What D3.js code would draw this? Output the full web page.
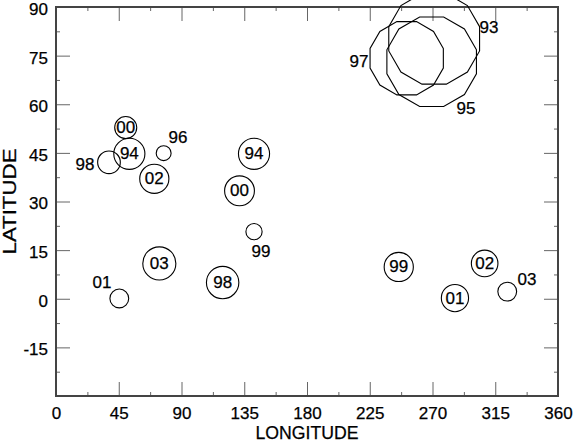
<!DOCTYPE html>
<html>
<head>
<meta charset="utf-8">
<script src="https://cdn.jsdelivr.net/npm/d3@7"></script>
<style>
  html, body { margin: 0; padding: 0; background: #fff; }
  svg { display: block; }
  text { font-family: "Liberation Sans", Arial, Helvetica, sans-serif; fill: #000; stroke: #000; stroke-width: 0.25px; }
</style>
</head>
<body>
<svg id="chart" width="573" height="442"></svg>
<script>
// ---- data ----
const labels   = ["00","94","98","96","02","00","94","99","01","03","98","99","02","01","03","97","95","93"];
const lons     = [50.0, 52.6, 38.0, 77.2, 70.5, 131.6, 142.0, 142.0, 45.4, 74.1, 119.5, 245.8, 307.4, 286.1, 323.6, 251.5, 269.4, 271.2];
const lats     = [52.8, 44.7, 42.1, 44.9, 37.0, 33.3, 44.7, 20.7, 0.1, 10.9, 5.0, 9.8, 10.9, 0.2, 2.2, 74.2, 73.1, 80.2];
const sizes    = [3.4, 4.8, 3.5, 2.3, 4.5, 4.6, 4.8, 2.5, 2.9, 5.1, 5.0, 4.5, 4.1, 4.2, 2.9, 11.7, 14.3, 14.5]; // radius, degrees of latitude
const labelLon = [null, null, 20.8, 87.5, null, null, null, 147.0, 33.0, null, null, null, null, null, 337.8, 217.3, 294.0, 310.5];
const labelLat = [null, null, 41.3, 49.6, null, null, null, 14.7, 4.9, null, null, null, null, null, 5.8, 73.1, 58.8, 83.8];
const xTicks = [0, 45, 90, 135, 180, 225, 270, 315, 360];
const yTicks = [-15, 0, 15, 30, 45, 60, 75, 90];
const xMinor = [22.5, 67.5, 112.5, 157.5, 202.5, 247.5, 292.5, 337.5];
const yMinor = [-22.5, -7.5, 7.5, 22.5, 37.5, 52.5, 67.5, 82.5];

// ---- layout ----
const W = 573, H = 442;
const L = 56, R = 558, T = 7, B = 396;
const svg = d3.select("#chart");

const x = d3.scaleLinear().domain([0, 360]).range([L, R]);
const y = d3.scaleLinear().domain([-30, 90]).range([B, T]);
const rScale = d3.scaleLinear().domain([0, 15]).range([0, y(0) - y(15)]);

const tickColor = "#666";
function styleAxis(g) {
  g.select(".domain").remove();
  g.selectAll(".tick line").attr("stroke", tickColor).attr("stroke-width", 1);
  g.selectAll(".tick text").attr("font-size", 17).attr("fill", "#000")
    .attr("font-family", "'Liberation Sans', Arial, sans-serif");
}
const fmt = d => String(d);

// bottom
svg.append("g").attr("transform", `translate(0,${B})`)
  .call(d3.axisBottom(x).tickValues(xTicks).tickSize(-14).tickPadding(11).tickFormat(fmt)).call(styleAxis);
svg.append("g").attr("transform", `translate(0,${B})`)
  .call(d3.axisBottom(x).tickValues(xMinor).tickSize(-4).tickFormat("")).call(styleAxis);
// top
svg.append("g").attr("transform", `translate(0,${T})`)
  .call(d3.axisTop(x).tickValues(xTicks).tickSize(-14).tickFormat("")).call(styleAxis);
svg.append("g").attr("transform", `translate(0,${T})`)
  .call(d3.axisTop(x).tickValues(xMinor).tickSize(-4).tickFormat("")).call(styleAxis);
// left
const leftAxis = svg.append("g").attr("transform", `translate(${L},0)`)
  .call(d3.axisLeft(y).tickValues(yTicks).tickSize(-14).tickPadding(8).tickFormat(fmt)).call(styleAxis);
leftAxis.selectAll(".tick text").attr("y", 2);
svg.append("g").attr("transform", `translate(${L},0)`)
  .call(d3.axisLeft(y).tickValues(yMinor).tickSize(-4).tickFormat("")).call(styleAxis);
// right
svg.append("g").attr("transform", `translate(${R},0)`)
  .call(d3.axisRight(y).tickValues(yTicks).tickSize(-14).tickFormat("")).call(styleAxis);
svg.append("g").attr("transform", `translate(${R},0)`)
  .call(d3.axisRight(y).tickValues(yMinor).tickSize(-4).tickFormat("")).call(styleAxis);

// frame
svg.append("rect").attr("x", L).attr("y", T).attr("width", R - L).attr("height", B - T)
  .attr("fill", "none").attr("stroke", "#444").attr("stroke-width", 2);

// titles
svg.append("text").attr("x", (L + R) / 2).attr("y", 439)
  .attr("text-anchor", "middle").attr("font-size", 18)
  .attr("textLength", 103).attr("lengthAdjust", "spacingAndGlyphs")
  .text("LONGITUDE");
svg.append("text").attr("transform", `translate(16,${(T + B) / 2}) rotate(-90)`)
  .attr("text-anchor", "middle").attr("font-size", 18)
  .attr("textLength", 106).attr("lengthAdjust", "spacingAndGlyphs")
  .text("LATITUDE");

// marks
const data = labels.map((lab, i) => ({
  lab, lon: lons[i], lat: lats[i], size: sizes[i], llon: labelLon[i], llat: labelLat[i]
}));
const g = svg.append("g");
const poly = d3.line().curve(d3.curveLinearClosed);
data.forEach(d => {
  const cx = x(d.lon), cy = y(d.lat), r = rScale(d.size);
  if (r > 25) {
    const pts = d3.range(12).map(k => {
      const a = (15 + 30 * k) * Math.PI / 180;
      return [cx + r * Math.cos(a), cy - r * Math.sin(a)];
    });
    g.append("path").attr("d", poly(pts)).attr("fill", "none").attr("stroke", "#000").attr("stroke-width", 1.1);
  } else {
    g.append("circle").attr("cx", cx).attr("cy", cy).attr("r", r)
      .attr("fill", "none").attr("stroke", "#000").attr("stroke-width", 1.1);
  }
  const tx = d.llon == null ? cx : x(d.llon);
  const ty = d.llat == null ? cy : y(d.llat);
  g.append("text").attr("x", tx).attr("y", ty)
    .attr("text-anchor", "middle").attr("dominant-baseline", "central")
    .attr("font-size", 17).text(d.lab);
});
</script>
</body>
</html>
